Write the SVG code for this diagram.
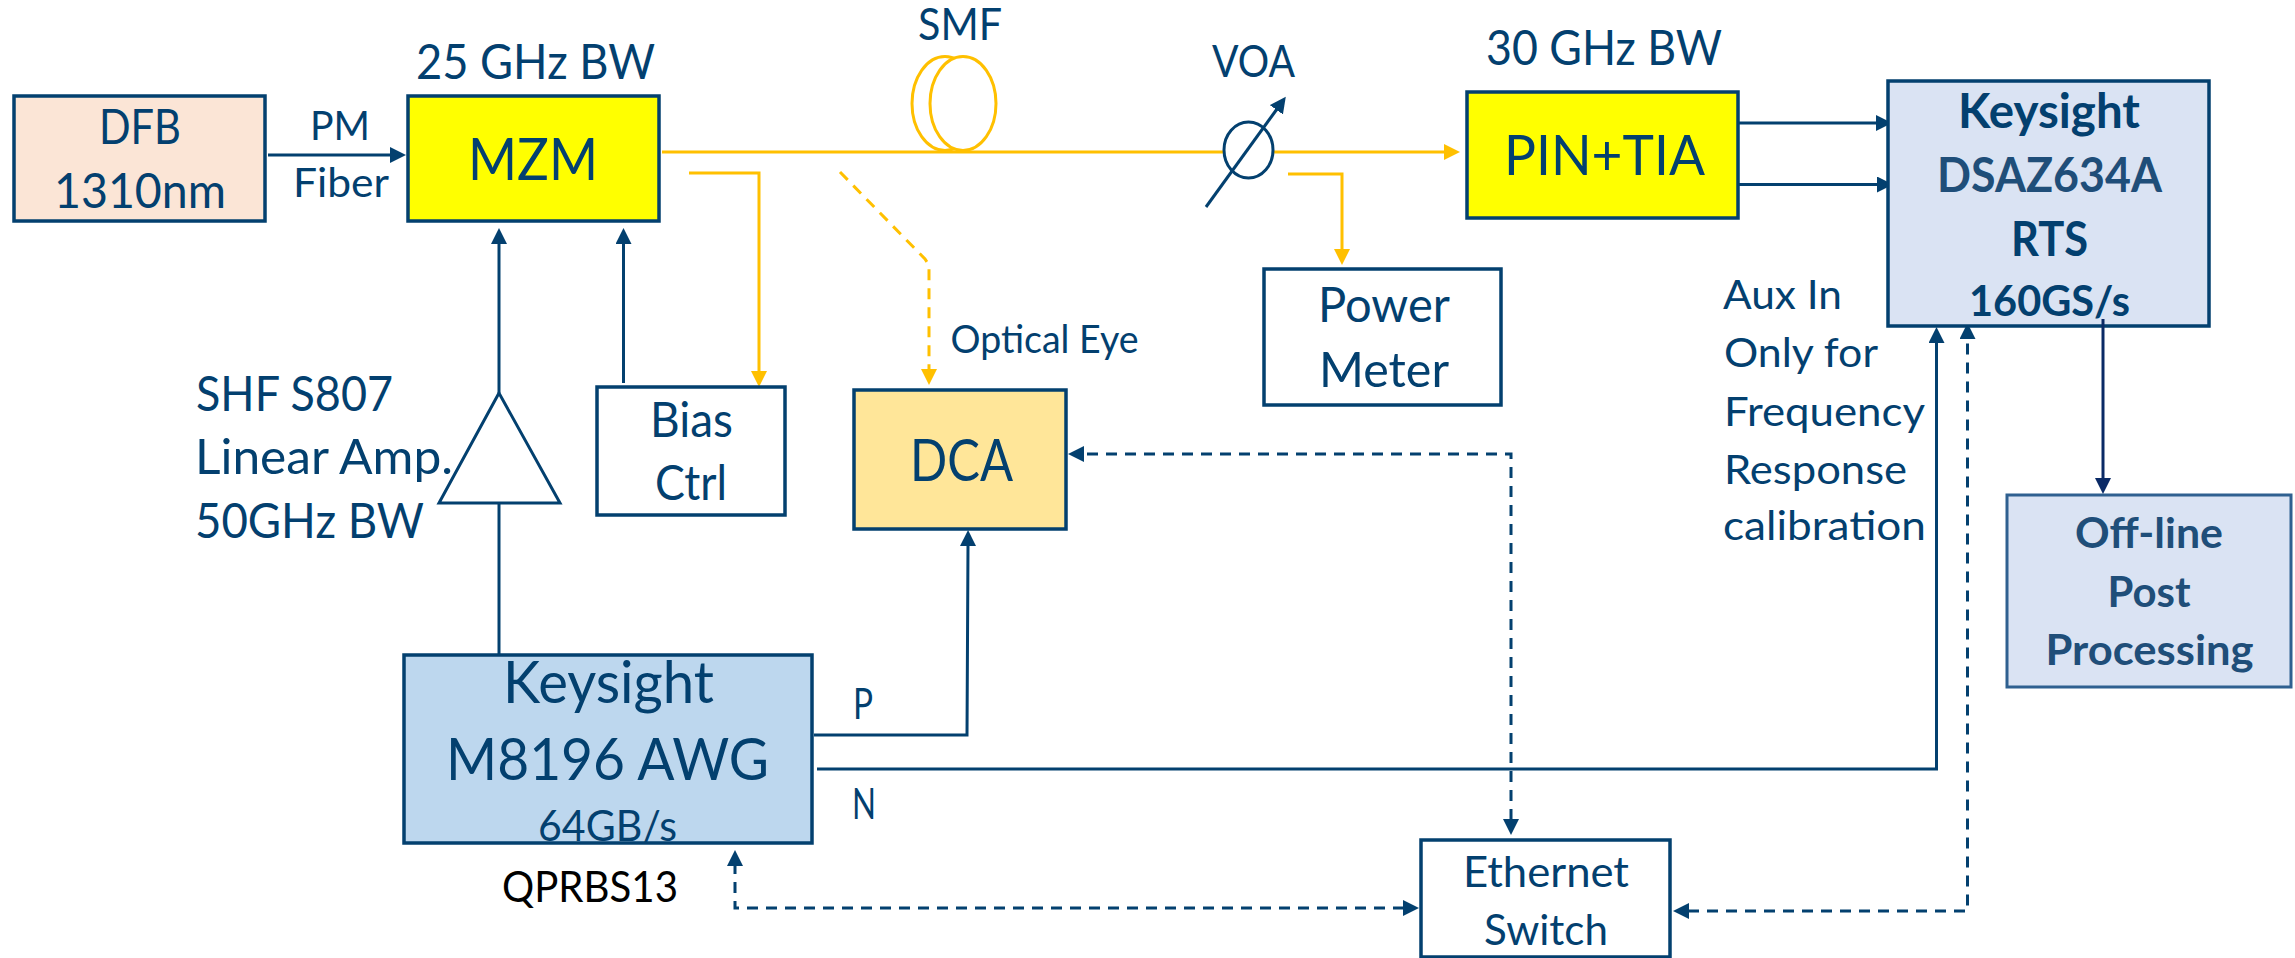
<svg xmlns="http://www.w3.org/2000/svg" width="2295" height="958" viewBox="0 0 2295 958">
<style>
text{font-family:Lato,"Liberation Sans",sans-serif;fill:#03406f;font-size:48px}
.b{font-weight:700}.l{fill:#1f4e79}.k{fill:#000}
.box{stroke:#03406f;stroke-width:3.5}
.nv{fill:none;stroke:#03406f;stroke-width:3}
.dn{fill:none;stroke:#03406f;stroke-width:3;stroke-dasharray:11 8}
.or{fill:none;stroke:#ffc000;stroke-width:3}
.do{fill:none;stroke:#ffc000;stroke-width:3;stroke-dasharray:11 8}
</style>
<defs>
<marker id="an" markerUnits="userSpaceOnUse" markerWidth="17" markerHeight="17" refX="1" refY="8" orient="auto-start-reverse"><path d="M0 0L16 8L0 16Z" fill="#03406f"/></marker>
<marker id="ad" markerUnits="userSpaceOnUse" markerWidth="17" markerHeight="17" refX="1" refY="8" orient="auto"><path d="M0 0L16 8L0 16Z" fill="#0a2a66"/></marker>
<marker id="ao" markerUnits="userSpaceOnUse" markerWidth="17" markerHeight="17" refX="1" refY="8" orient="auto"><path d="M0 0L16 8L0 16Z" fill="#ffc000"/></marker>
</defs>
<rect width="2295" height="958" fill="#fff"/>
<g id="connectors">
<path class="nv" d="M268 155H391" marker-end="url(#an)"/>
<path class="or" d="M662 152H1224"/>
<path class="or" d="M1273 152H1445" marker-end="url(#ao)"/>
<path class="or" d="M689 173H759V372" marker-end="url(#ao)"/>
<path class="or" d="M1288 174H1342V250" marker-end="url(#ao)"/>
<path class="do" d="M840 172L925 259L929 265V370" marker-end="url(#ao)"/>
<path class="nv" d="M499 393V243" marker-end="url(#an)"/>
<path class="nv" d="M623.500 383V243" marker-end="url(#an)"/>
<path class="nv" d="M499 503V655"/>
<path class="nv" d="M814 735H967L968 545" marker-end="url(#an)"/>
<path class="nv" d="M817 769H1936.500V342" marker-end="url(#an)"/>
<path class="dn" d="M1511 820V454H1083" marker-start="url(#an)" marker-end="url(#an)"/>
<path class="dn" d="M1404 908H735V865" marker-start="url(#an)" marker-end="url(#an)"/>
<path class="dn" d="M1688 911H1967.500V338" marker-start="url(#an)" marker-end="url(#an)"/>
<path class="nv" d="M1719 123H1877" marker-end="url(#an)"/>
<path class="nv" d="M1721 184.500H1878" marker-end="url(#an)"/>
</g>
<g id="dfb"><rect class="box" x="14" y="96" width="251" height="125" fill="#fbe5d6"/>
<text x="99" y="144" textLength="82" lengthAdjust="spacingAndGlyphs">DFB</text><text x="54" y="208" textLength="172" lengthAdjust="spacingAndGlyphs">1310nm</text></g>
<g id="pm-fiber"><text x="310" y="140" style="font-size:41px" textLength="60" lengthAdjust="spacingAndGlyphs">PM</text><text x="293" y="197" style="font-size:41px" textLength="96" lengthAdjust="spacingAndGlyphs">Fiber</text></g>
<g id="mzm"><rect class="box" x="408" y="96" width="251" height="125" fill="#ffff00"/>
<text x="468" y="180" style="font-size:59px" textLength="130" lengthAdjust="spacingAndGlyphs">MZM</text>
<text x="416" y="79" textLength="239" lengthAdjust="spacingAndGlyphs">25 GHz BW</text></g>
<g id="amp"><path d="M499 393L439 503H560Z" fill="#fff" stroke="#03406f" stroke-width="3"/>
<text x="196" y="411" textLength="197" lengthAdjust="spacingAndGlyphs">SHF S807</text><text x="195" y="474" textLength="258" lengthAdjust="spacingAndGlyphs">Linear Amp.</text><text x="195" y="538" textLength="229" lengthAdjust="spacingAndGlyphs">50GHz BW</text></g>
<g id="bias"><rect class="box" x="597" y="387" width="188" height="128" fill="#fff"/>
<text x="650" y="437" textLength="83" lengthAdjust="spacingAndGlyphs">Bias</text><text x="655" y="500" textLength="72" lengthAdjust="spacingAndGlyphs">Ctrl</text></g>
<g id="smf"><ellipse class="or" cx="945" cy="103.500" rx="33" ry="47"/><ellipse class="or" cx="963" cy="103.500" rx="33" ry="47" style="fill:#fff"/>
<text x="918" y="40" style="font-size:44px" textLength="84" lengthAdjust="spacingAndGlyphs">SMF</text></g>
<g id="voa"><ellipse cx="1248.500" cy="150" rx="24.500" ry="28" fill="#fff" stroke="#03406f" stroke-width="3"/>
<path class="nv" d="M1206 207L1277 109" marker-end="url(#an)"/>
<text x="1212" y="77" style="font-size:44px" textLength="83" lengthAdjust="spacingAndGlyphs">VOA</text></g>
<g id="pin-tia"><rect class="box" x="1467" y="92" width="271" height="126" fill="#ffff00"/>
<text x="1504" y="175" style="font-size:56px" textLength="201" lengthAdjust="spacingAndGlyphs">PIN+TIA</text>
<text x="1486" y="65" textLength="236" lengthAdjust="spacingAndGlyphs">30 GHz BW</text></g>
<g id="power-meter"><rect class="box" x="1264" y="269" width="237" height="136" fill="#fff"/>
<text x="1318" y="322" textLength="132" lengthAdjust="spacingAndGlyphs">Power</text><text x="1319" y="387" textLength="130" lengthAdjust="spacingAndGlyphs">Meter</text></g>
<g id="dca"><rect class="box" x="854" y="390" width="212" height="139" fill="#ffe699"/>
<text x="910" y="481" style="font-size:59px" textLength="103" lengthAdjust="spacingAndGlyphs">DCA</text>
<text x="950.500" y="353" style="font-size:39px" textLength="188" lengthAdjust="spacingAndGlyphs">Optical Eye</text></g>
<g id="awg"><rect class="box" x="404" y="655" width="408" height="188" fill="#bdd7ee"/>
<text x="503" y="703" style="font-size:59px" textLength="211" lengthAdjust="spacingAndGlyphs">Keysight</text>
<text x="446" y="780" style="font-size:59px" textLength="323" lengthAdjust="spacingAndGlyphs">M8196 AWG</text>
<text x="538" y="841" style="font-size:42px" textLength="139" lengthAdjust="spacingAndGlyphs">64GB/s</text>
<text class="k" x="502" y="902" style="font-size:42px" textLength="176" lengthAdjust="spacingAndGlyphs">QPRBS13</text>
<text x="853" y="719" style="font-size:43px" textLength="20" lengthAdjust="spacingAndGlyphs">P</text>
<text x="852" y="819" style="font-size:43px" textLength="24" lengthAdjust="spacingAndGlyphs">N</text></g>
<g id="ethernet"><rect class="box" x="1421" y="840" width="249" height="117" fill="#fff"/>
<text x="1463" y="887" style="font-size:42px" textLength="166" lengthAdjust="spacingAndGlyphs">Ethernet</text><text x="1484" y="945" style="font-size:42px" textLength="124" lengthAdjust="spacingAndGlyphs">Switch</text></g>
<g id="rts"><rect class="box" x="1888" y="81" width="321" height="245" fill="#dae3f3"/>
<text class="b" x="1958" y="128" textLength="182" lengthAdjust="spacingAndGlyphs">Keysight</text>
<text class="b l" x="1937" y="192" textLength="225" lengthAdjust="spacingAndGlyphs">DSAZ634A</text>
<text class="b" x="2011" y="256" textLength="77" lengthAdjust="spacingAndGlyphs">RTS</text>
<text class="b" x="1969" y="316" style="font-size:42px" textLength="161" lengthAdjust="spacingAndGlyphs">160GS/s</text></g>
<g id="aux-note"><text x="1723" y="309" style="font-size:40px" textLength="119" lengthAdjust="spacingAndGlyphs">Aux In</text>
<text x="1724" y="367" style="font-size:40px" textLength="154" lengthAdjust="spacingAndGlyphs">Only for</text>
<text x="1724" y="425.500" style="font-size:40px" textLength="201" lengthAdjust="spacingAndGlyphs">Frequency</text>
<text x="1724" y="484" style="font-size:40px" textLength="183" lengthAdjust="spacingAndGlyphs">Response</text>
<text x="1723" y="540" style="font-size:40px" textLength="203" lengthAdjust="spacingAndGlyphs">calibration</text></g>
<g id="offline"><rect x="2007" y="495" width="284" height="192" fill="#dae3f3" stroke="#2f6090" stroke-width="3"/>
<text class="b l" x="2075" y="548" style="font-size:42px" textLength="148" lengthAdjust="spacingAndGlyphs">Off-line</text>
<text class="b l" x="2107.500" y="607" style="font-size:42px" textLength="83" lengthAdjust="spacingAndGlyphs">Post</text>
<text class="b l" x="2045.500" y="665" style="font-size:42px" textLength="208" lengthAdjust="spacingAndGlyphs">Processing</text></g>
<g id="connector-rts-offline"><path d="M2103 319V479" fill="none" stroke="#0a2a66" stroke-width="3" marker-end="url(#ad)"/></g>
</svg>
